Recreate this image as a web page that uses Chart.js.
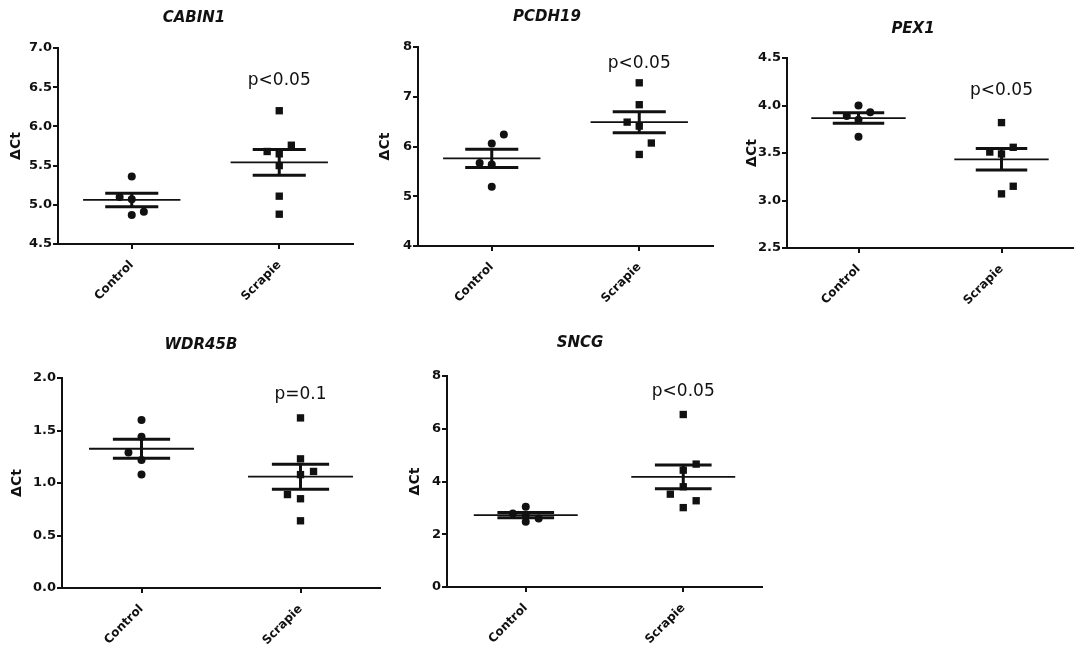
<!DOCTYPE html>
<html>
<head>
<meta charset="utf-8">
<script src="https://cdn.jsdelivr.net/npm/chart.js@4.4.1/dist/chart.umd.min.js"></script>
<style>
  body { margin: 0; background: #fff; }
  #wrap { position: relative; width: 1084px; height: 663px; overflow: hidden; }
  #wrap canvas { position: absolute; }
</style>
</head>
<body>
<div id="wrap"></div>
<script>
// ---------------- data ----------------
const groups = ['Control', 'Scrapie']
const genes = ['CABIN1', 'PCDH19', 'PEX1', 'WDR45B', 'SNCG']
const pLabels = ['p<0.05', 'p<0.05', 'p<0.05', 'p=0.1', 'p<0.05']
const pLabelY = [6.58, 7.66, 4.16, 1.84, 7.40]

const cabin1Control = [5.36, 5.10, 5.07, 4.87, 4.91]
const cabin1ControlLane = [0, -1, 0, 0, 1]
const cabin1Scrapie = [6.20, 5.76, 5.68, 5.65, 5.50, 5.11, 4.88]
const cabin1ScrapieLane = [0, 1, -1, 0, 0, 0, 0]
const cabin1Ticks = ['4.5', '5.0', '5.5', '6.0', '6.5', '7.0']

const pcdh19Control = [6.24, 6.06, 5.67, 5.64, 5.19]
const pcdh19ControlLane = [1, 0, -1, 0, 0]
const pcdh19Scrapie = [7.28, 6.84, 6.49, 6.41, 6.07, 5.84]
const pcdh19ScrapieLane = [0, 0, -1, 0, 1, 0]
const pcdh19Ticks = ['4', '5', '6', '7', '8']

const pex1Control = [4.00, 3.89, 3.93, 3.85, 3.67]
const pex1ControlLane = [0, -1, 1, 0, 0]
const pex1Scrapie = [3.82, 3.56, 3.51, 3.49, 3.15, 3.07]
const pex1ScrapieLane = [0, 1, -1, 0, 1, 0]
const pex1Ticks = ['2.5', '3.0', '3.5', '4.0', '4.5']

const wdr45bControl = [1.60, 1.44, 1.29, 1.22, 1.08]
const wdr45bControlLane = [0, 0, -1, 0, 0]
const wdr45bScrapie = [1.62, 1.23, 1.11, 1.08, 0.89, 0.85, 0.64]
const wdr45bScrapieLane = [0, 0, 1, 0, -1, 0, 0]
const wdr45bTicks = ['0.0', '0.5', '1.0', '1.5', '2.0']

const sncgControl = [3.04, 2.79, 2.72, 2.60, 2.47]
const sncgControlLane = [0, -1, 0, 1, 0]
const sncgScrapie = [6.54, 4.66, 4.43, 3.80, 3.52, 3.27, 3.01]
const sncgScrapieLane = [0, 1, 0, 0, -1, 1, 0]
const sncgTicks = ['0', '2', '4', '6', '8']

const panelData = [
  [cabin1Control, cabin1ControlLane, cabin1Scrapie, cabin1ScrapieLane, cabin1Ticks],
  [pcdh19Control, pcdh19ControlLane, pcdh19Scrapie, pcdh19ScrapieLane, pcdh19Ticks],
  [pex1Control, pex1ControlLane, pex1Scrapie, pex1ScrapieLane, pex1Ticks],
  [wdr45bControl, wdr45bControlLane, wdr45bScrapie, wdr45bScrapieLane, wdr45bTicks],
  [sncgControl, sncgControlLane, sncgScrapie, sncgScrapieLane, sncgTicks]
]

// ---------------- layout / style ----------------
// box: canvas left, top, width, height ; area: chart area l, t, r, b (page px)
const layout = [
  { box: [0, 0, 362, 320],   area: [58, 48, 353, 244],   titleX: 194, titleY: 18,  yTitleX: 16 },
  { box: [362, 0, 362, 320], area: [418, 47, 713, 246],  titleX: 547, titleY: 17,  yTitleX: 385 },
  { box: [724, 0, 360, 320], area: [787, 58, 1073, 248], titleX: 913, titleY: 29,  yTitleX: 752 },
  { box: [0, 320, 395, 343], area: [62, 378, 380, 588],  titleX: 201, titleY: 345, yTitleX: 17 },
  { box: [395, 320, 380, 343], area: [447, 376, 762, 587], titleX: 580, titleY: 343, yTitleX: 415 }
]
const laneWidth = 0.082
const meanHalf = 0.33
const semHalf = 0.18
const FONT = "'DejaVu Sans', 'Liberation Sans', Arial, sans-serif"
const INK = '#111'

const meanSem = {
  id: 'meanSem',
  afterDatasetsDraw(chart, args, opts) {
    const { ctx, scales: { x, y } } = chart
    ctx.save()
    ctx.strokeStyle = INK
    opts.series.forEach((vals, g) => {
      const n = vals.length
      const mean = vals.reduce((a, b) => a + b, 0) / n
      const sd = Math.sqrt(vals.reduce((a, b) => a + (b - mean) ** 2, 0) / (n - 1))
      const sem = sd / Math.sqrt(n)
      const yM = y.getPixelForValue(mean)
      const yHi = y.getPixelForValue(mean + sem)
      const yLo = y.getPixelForValue(mean - sem)
      const xc = x.getPixelForValue(g)
      const mw = x.getPixelForValue(g + meanHalf) - xc
      const sw = x.getPixelForValue(g + semHalf) - xc
      ctx.lineWidth = 1.8
      ctx.beginPath()
      ctx.moveTo(xc - mw, yM); ctx.lineTo(xc + mw, yM)
      ctx.stroke()
      ctx.lineWidth = 3
      ctx.beginPath()
      ctx.moveTo(xc - sw, yHi); ctx.lineTo(xc + sw, yHi)
      ctx.moveTo(xc - sw, yLo); ctx.lineTo(xc + sw, yLo)
      ctx.moveTo(xc, yHi); ctx.lineTo(xc, yLo)
      ctx.stroke()
    })
    // p value
    ctx.fillStyle = INK
    ctx.font = '17px ' + FONT
    ctx.textAlign = 'center'
    ctx.textBaseline = 'middle'
    ctx.fillText(opts.pText, x.getPixelForValue(1), y.getPixelForValue(opts.pY))
    // gene title
    ctx.font = 'italic bold 15px ' + FONT
    ctx.fillText(opts.title, opts.titleX, opts.titleY)
    ctx.restore()
  }
}

const wrap = document.getElementById('wrap')

panelData.forEach(([ctrl, ctrlLane, scr, scrLane, ticks], i) => {
  const L = layout[i]
  const [bl, bt, bw, bh] = L.box
  const [al, at, ar, ab] = L.area
  const canvas = document.createElement('canvas')
  canvas.width = bw
  canvas.height = bh
  canvas.style.left = bl + 'px'
  canvas.style.top = bt + 'px'
  wrap.appendChild(canvas)

  const yAxisW = al - bl
  const xAxisH = bt + bh - ab
  const tickVals = ticks.map(Number)

  new Chart(canvas, {
    type: 'scatter',
    data: {
      datasets: [
        {
          data: ctrl.map((v, k) => ({ x: 0 + ctrlLane[k] * laneWidth, y: v })),
          pointStyle: 'circle', pointRadius: 4, backgroundColor: INK, borderWidth: 0
        },
        {
          data: scr.map((v, k) => ({ x: 1 + scrLane[k] * laneWidth, y: v })),
          pointStyle: 'rect', pointRadius: 5.2, backgroundColor: INK, borderWidth: 0
        }
      ]
    },
    options: {
      responsive: false,
      animation: false,
      layout: { padding: { top: at - bt, right: bl + bw - ar, left: 0, bottom: 0 } },
      plugins: {
        legend: { display: false },
        tooltip: { enabled: false },
        meanSem: {
          series: [ctrl, scr], pText: pLabels[i], pY: pLabelY[i],
          title: genes[i], titleX: L.titleX - bl, titleY: L.titleY - bt
        }
      },
      scales: {
        x: {
          type: 'linear', min: -0.5, max: 1.5,
          afterBuildTicks: ax => { ax.ticks = groups.map((g, k) => ({ value: k })) },
          afterFit: ax => { ax.height = xAxisH },
          ticks: {
            callback: v => groups[v], minRotation: 45, maxRotation: 45,
            color: INK, font: { family: FONT, size: 12, weight: 'bold' }, padding: 9
          },
          grid: { drawOnChartArea: false, color: INK, lineWidth: 2, tickLength: 5 },
          border: { color: INK, width: 2 }
        },
        y: {
          min: tickVals[0], max: tickVals[tickVals.length - 1],
          afterBuildTicks: ax => { ax.ticks = tickVals.map(v => ({ value: v })) },
          afterFit: ax => { ax.width = yAxisW },
          ticks: {
            callback: v => ticks[tickVals.indexOf(v)], color: INK,
            font: { family: FONT, size: 13, weight: 'bold' }, padding: 1
          },
          grid: { drawOnChartArea: false, color: INK, lineWidth: 2, tickLength: 5 },
          border: { color: INK, width: 2 },
          title: {
            display: true, text: 'ΔCt', color: INK,
            font: { family: FONT, size: 14, weight: 'bold' },
            padding: { top: L.yTitleX - bl - 8.4, bottom: 0 }
          }
        }
      }
    },
    plugins: [meanSem]
  })
})
</script>
</body>
</html>
